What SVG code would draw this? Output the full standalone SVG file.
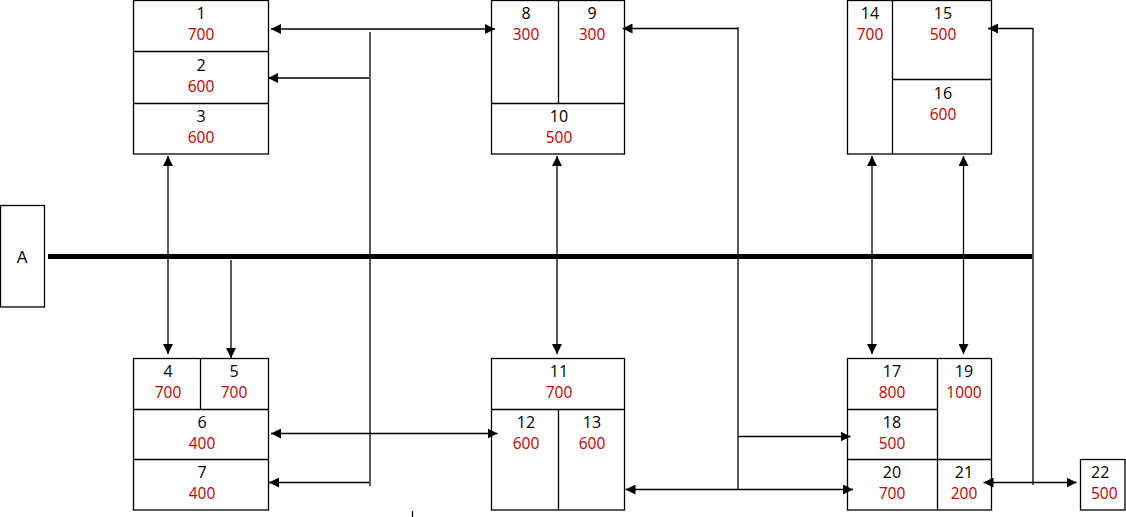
<svg xmlns="http://www.w3.org/2000/svg" width="1126" height="517" viewBox="0 0 1126 517">
<defs>
<marker id="ah" markerUnits="userSpaceOnUse" markerWidth="10" markerHeight="10" refX="10" refY="5" orient="auto-start-reverse" viewBox="0 0 10 10">
<path d="M0,0 L10,5 L0,10 z" fill="#000"/>
</marker>
<style>
.box{fill:#fff;stroke:#000;stroke-width:1.3}
.div{stroke:#000;stroke-width:1.3;fill:none}
.ln{stroke:#000;stroke-width:1.3;fill:none}
.lb{font-family:"Open Sans","Liberation Sans",sans-serif;font-size:16px;fill:#000;text-anchor:middle}
.val{font-family:"Open Sans","Liberation Sans",sans-serif;font-size:15.5px;fill:#C00000;text-anchor:middle}
.a{font-family:"Liberation Sans",Arial,sans-serif;font-size:16px;fill:#000;text-anchor:middle}
</style>
</defs>
<rect width="1126" height="517" fill="#fff"/>

<g id="nodeA">
<rect class="box" x="0.5" y="205.5" width="44" height="101.5"/>
<text class="a" x="22" y="263">A</text>
</g>

<g id="node1-3">
<rect class="box" x="133.5" y="0.5" width="135" height="153.5"/>
<line class="div" x1="133.5" y1="51.5" x2="268.5" y2="51.5"/>
<line class="div" x1="133.5" y1="103.5" x2="268.5" y2="103.5"/>
<text class="lb" x="201" y="19">1</text><text class="val" x="201" y="40">700</text>
<text class="lb" x="201" y="70.5">2</text><text class="val" x="201" y="91.5">600</text>
<text class="lb" x="201" y="122">3</text><text class="val" x="201" y="143">600</text>
</g>

<g id="node8-10">
<rect class="box" x="491.5" y="0.5" width="133" height="153.5"/>
<line class="div" x1="558.5" y1="0.5" x2="558.5" y2="103.5"/>
<line class="div" x1="491.5" y1="103.5" x2="624.5" y2="103.5"/>
<text class="lb" x="526" y="19">8</text><text class="val" x="526" y="40">300</text>
<text class="lb" x="592" y="19">9</text><text class="val" x="592" y="40">300</text>
<text class="lb" x="559" y="122">10</text><text class="val" x="559" y="143">500</text>
</g>

<g id="node14-16">
<rect class="box" x="847.5" y="0.5" width="144" height="153.5"/>
<line class="div" x1="892.5" y1="0.5" x2="892.5" y2="154"/>
<line class="div" x1="892.5" y1="79.5" x2="991.5" y2="79.5"/>
<text class="lb" x="870" y="19">14</text><text class="val" x="870" y="40">700</text>
<text class="lb" x="943" y="19">15</text><text class="val" x="943" y="40">500</text>
<text class="lb" x="943" y="98.5">16</text><text class="val" x="943" y="119.5">600</text>
</g>

<g id="node4-7">
<rect class="box" x="133.5" y="358.5" width="135" height="151.5"/>
<line class="div" x1="200.5" y1="358.5" x2="200.5" y2="409.5"/>
<line class="div" x1="133.5" y1="409.5" x2="268.5" y2="409.5"/>
<line class="div" x1="133.5" y1="459.5" x2="268.5" y2="459.5"/>
<text class="lb" x="168" y="377">4</text><text class="val" x="168" y="398">700</text>
<text class="lb" x="234" y="377">5</text><text class="val" x="234" y="398">700</text>
<text class="lb" x="202" y="428">6</text><text class="val" x="202" y="449">400</text>
<text class="lb" x="202" y="478">7</text><text class="val" x="202" y="499">400</text>
</g>

<g id="node11-13">
<rect class="box" x="491.5" y="358.5" width="133" height="151.5"/>
<line class="div" x1="491.5" y1="409.5" x2="624.5" y2="409.5"/>
<line class="div" x1="558.5" y1="409.5" x2="558.5" y2="510"/>
<text class="lb" x="559" y="377">11</text><text class="val" x="559" y="398">700</text>
<text class="lb" x="526" y="428">12</text><text class="val" x="526" y="449">600</text>
<text class="lb" x="592" y="428">13</text><text class="val" x="592" y="449">600</text>
</g>

<g id="node17-21">
<rect class="box" x="847.5" y="358.5" width="144" height="151.5"/>
<line class="div" x1="937.5" y1="358.5" x2="937.5" y2="510"/>
<line class="div" x1="847.5" y1="409.5" x2="937.5" y2="409.5"/>
<line class="div" x1="847.5" y1="459.5" x2="991.5" y2="459.5"/>
<text class="lb" x="892" y="377">17</text><text class="val" x="892" y="398">800</text>
<text class="lb" x="964" y="377">19</text><text class="val" x="964" y="398">1000</text>
<text class="lb" x="892" y="428">18</text><text class="val" x="892" y="449">500</text>
<text class="lb" x="892" y="478">20</text><text class="val" x="892" y="499">700</text>
<text class="lb" x="964" y="478">21</text><text class="val" x="964" y="499">200</text>
</g>

<g id="node22">
<rect class="box" x="1080.5" y="459.5" width="44.5" height="50.5"/>
<text class="lb" x="1091" y="478" style="text-anchor:start">22</text>
<text class="val" x="1091" y="499" style="text-anchor:start">500</text>
</g>

<g id="connectors">
<line x1="48" y1="256.5" x2="1032" y2="256.5" stroke="#000" stroke-width="5"/>
<line class="ln" x1="271" y1="29" x2="495" y2="29" marker-start="url(#ah)" marker-end="url(#ah)"/>
<line class="ln" x1="370" y1="32" x2="370" y2="486"/>
<line class="ln" x1="369" y1="78" x2="268" y2="78" marker-end="url(#ah)"/>
<line class="ln" x1="369" y1="482.5" x2="269" y2="482.5" marker-end="url(#ah)"/>
<line class="ln" x1="271" y1="433.5" x2="497.5" y2="433.5" marker-start="url(#ah)" marker-end="url(#ah)"/>
<line class="ln" x1="412.5" y1="511" x2="412.5" y2="517"/>
<line class="ln" x1="168" y1="156" x2="168" y2="354" marker-start="url(#ah)" marker-end="url(#ah)"/>
<line class="ln" x1="231" y1="260" x2="231" y2="358" marker-end="url(#ah)"/>
<line class="ln" x1="557" y1="156" x2="557" y2="354" marker-start="url(#ah)" marker-end="url(#ah)"/>
<line class="ln" x1="872" y1="156" x2="872" y2="354" marker-start="url(#ah)" marker-end="url(#ah)"/>
<line class="ln" x1="963.5" y1="156" x2="963.5" y2="354" marker-start="url(#ah)" marker-end="url(#ah)"/>
<line class="ln" x1="738" y1="27" x2="738" y2="489.5"/>
<line class="ln" x1="738" y1="28.5" x2="622.5" y2="28.5" marker-end="url(#ah)"/>
<line class="ln" x1="738" y1="436.5" x2="850.5" y2="436.5" marker-end="url(#ah)"/>
<line class="ln" x1="625.5" y1="489.5" x2="853" y2="489.5" marker-start="url(#ah)" marker-end="url(#ah)"/>
<line class="ln" x1="1033" y1="28" x2="1033" y2="485"/>
<line class="ln" x1="1033" y1="28.5" x2="988" y2="28.5" marker-end="url(#ah)"/>
<line class="ln" x1="983.5" y1="482.5" x2="1076.5" y2="482.5" marker-start="url(#ah)" marker-end="url(#ah)"/>
</g>
</svg>
